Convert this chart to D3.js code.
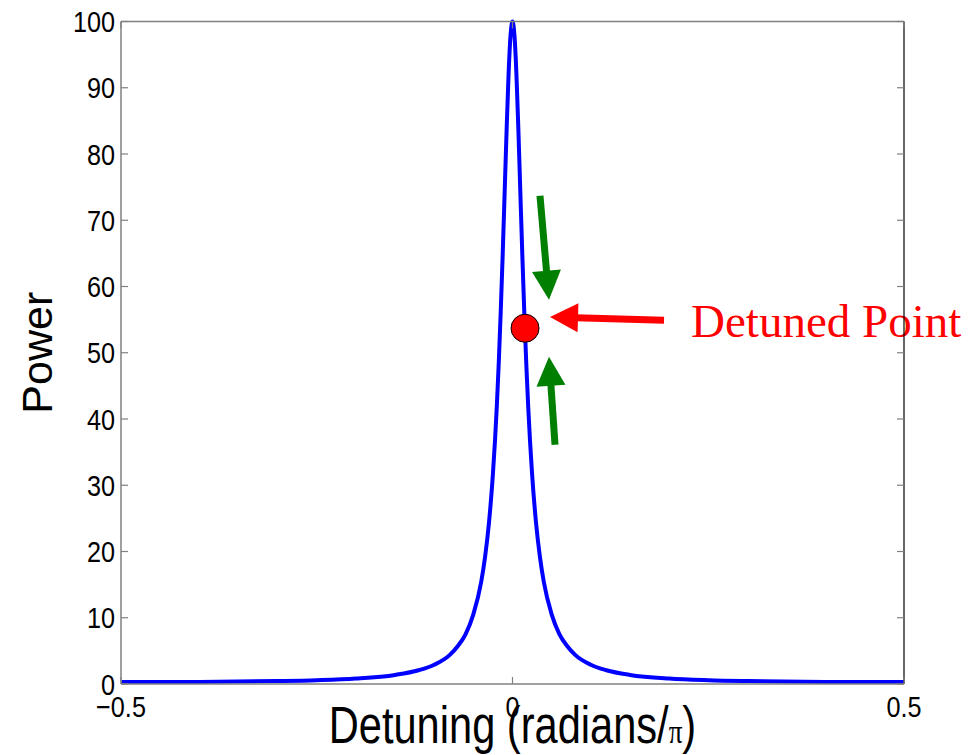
<!DOCTYPE html>
<html>
<head>
<meta charset="utf-8">
<script src="https://cdn.jsdelivr.net/npm/d3@7"></script>
<style>
  html, body { margin: 0; padding: 0; background: #fff; }
  svg { display: block; }
</style>
</head>
<body>
<svg id="chart" width="973" height="755"></svg>
<script>
// detuning (radians/pi) and power
const detuning = [-0.5, -0.4, -0.3, -0.25, -0.2, -0.15, -0.12, -0.1, -0.08, -0.07, -0.06, -0.05,
  -0.04, -0.035, -0.03, -0.025, -0.02, -0.0175, -0.015, -0.0125, -0.01, -0.0075, -0.005, -0.0025,
  0, 0.0025, 0.005, 0.0075, 0.01, 0.0125, 0.015, 0.0175, 0.02, 0.025, 0.03, 0.035, 0.04,
  0.05, 0.06, 0.07, 0.08, 0.1, 0.12, 0.15, 0.2, 0.25, 0.3, 0.4, 0.5];
const power = [0.29, 0.32, 0.44, 0.57, 0.82, 1.37, 2.07, 2.9, 4.4, 5.7, 7.5, 10.5,
  15.4, 19.2, 24.4, 31.7, 42.0, 48.6, 56.3, 64.9, 74.3, 83.7, 92.1, 97.9,
  100, 97.9, 92.1, 83.7, 74.3, 64.9, 56.3, 48.6, 42.0, 31.7, 24.4, 19.2, 15.4,
  10.5, 7.5, 5.7, 4.4, 2.9, 2.07, 1.37, 0.82, 0.57, 0.44, 0.32, 0.29];

const xTicks = [-0.5, 0, 0.5];
const yTicks = [0, 10, 20, 30, 40, 50, 60, 70, 80, 90, 100];

// annotation: detuned point and arrows (data units)
const detunedPoint = { x: 0.016, y: 53.7, label: "Detuned Point" };
const greenArrows = [
  { x0: 0.0351, y0: 73.7, x1: 0.0466, y1: 58.0 },
  { x0: 0.0543, y0: 36.1, x1: 0.0466, y1: 49.4 }
];
const redArrow = { x0: 0.1935, y0: 54.9, x1: 0.0479, y1: 55.4 };
const labelPos = { x: 0.228, y: 52.4 };

const svg = d3.select('#chart');
const mLeft = 121, mRight = 904, mTop = 21.5, mBottom = 684;

const x = d3.scaleLinear().domain([-0.5, 0.5]).range([mLeft, mRight]);
const y = d3.scaleLinear().domain([0, 100]).range([mBottom, mTop]);

const tickFont = "'Liberation Sans', Arial, Helvetica, sans-serif";

// curve
const pts = detuning.map((d, i) => [d, power[i]]);
svg.append('path')
  .datum(pts)
  .attr('fill', 'none')
  .attr('stroke', '#0000ff')
  .attr('stroke-width', 4)
  .attr('stroke-linejoin', 'round')
  .attr('d', d3.line().x(d => x(d[0])).y(d => y(d[1])).curve(d3.curveMonotoneX));

// arrows
function arrow(a, color, width, headLen, headW) {
  const px0 = x(a.x0), py0 = y(a.y0), px1 = x(a.x1), py1 = y(a.y1);
  const dx = px1 - px0, dy = py1 - py0, L = Math.hypot(dx, dy);
  const ux = dx / L, uy = dy / L, nx = -uy, ny = ux;
  const bx = px1 - ux * headLen, by = py1 - uy * headLen;
  svg.append('line')
    .attr('x1', px0).attr('y1', py0)
    .attr('x2', bx + ux * 2).attr('y2', by + uy * 2)
    .attr('stroke', color).attr('stroke-width', width);
  svg.append('polygon')
    .attr('points', [[px1, py1], [bx + nx * headW / 2, by + ny * headW / 2], [bx - nx * headW / 2, by - ny * headW / 2]].map(p => p.join(',')).join(' '))
    .attr('fill', color);
}
greenArrows.forEach(a => arrow(a, '#007f00', 7, 29, 29));
arrow(redArrow, '#ff0000', 7, 28, 29);

svg.append('circle')
  .attr('cx', x(detunedPoint.x)).attr('cy', y(detunedPoint.y))
  .attr('r', 14)
  .attr('fill', '#ff0000')
  .attr('stroke', '#000').attr('stroke-width', 1);

svg.append('text')
  .attr('x', x(labelPos.x)).attr('y', y(labelPos.y))
  .attr('font-family', "'Liberation Serif', 'Times New Roman', serif")
  .attr('font-size', 47)
  .attr('fill', '#ff0000')
  .text(detunedPoint.label);

// axes box
const axisColor = '#808080';
svg.append('line').attr('x1', mLeft).attr('x2', mRight).attr('y1', mTop).attr('y2', mTop).attr('stroke', axisColor).attr('stroke-width', 1.5);
svg.append('line').attr('x1', mLeft).attr('x2', mRight).attr('y1', mBottom).attr('y2', mBottom).attr('stroke', axisColor).attr('stroke-width', 1.5);
svg.append('line').attr('x1', mLeft).attr('x2', mLeft).attr('y1', mTop).attr('y2', mBottom).attr('stroke', axisColor).attr('stroke-width', 1.5);
svg.append('line').attr('x1', mRight).attr('x2', mRight).attr('y1', mTop).attr('y2', mBottom).attr('stroke', '#000').attr('stroke-width', 1.2);

// ticks
const tl = 7;
yTicks.forEach(t => {
  svg.append('line').attr('x1', mLeft).attr('x2', mLeft + tl).attr('y1', y(t)).attr('y2', y(t)).attr('stroke', axisColor).attr('stroke-width', 1.2);
  svg.append('line').attr('x1', mRight).attr('x2', mRight - tl).attr('y1', y(t)).attr('y2', y(t)).attr('stroke', axisColor).attr('stroke-width', 1.2);
});
xTicks.forEach(t => {
  svg.append('line').attr('x1', x(t)).attr('x2', x(t)).attr('y1', mBottom).attr('y2', mBottom - tl).attr('stroke', axisColor).attr('stroke-width', 1.2);
  svg.append('line').attr('x1', x(t)).attr('x2', x(t)).attr('y1', mTop).attr('y2', mTop + tl).attr('stroke', axisColor).attr('stroke-width', 1.2);
});

// tick labels (condensed look)
const sx = 0.87;
yTicks.forEach(t => {
  svg.append('text')
    .attr('transform', `translate(${mLeft - 6},${y(t) + 10.5}) scale(${sx},1)`)
    .attr('text-anchor', 'end')
    .attr('font-family', tickFont)
    .attr('font-size', 29)
    .attr('fill', '#000')
    .text(t);
});
xTicks.forEach(t => {
  svg.append('text')
    .attr('transform', `translate(${x(t)},717) scale(${sx},1)`)
    .attr('text-anchor', 'middle')
    .attr('font-family', tickFont)
    .attr('font-size', 29)
    .attr('fill', '#000')
    .text(t === 0 ? '0' : d3.format('.1f')(t).replace('-', '\u2212'));
});

// axis titles
const xl = svg.append('text')
  .attr('transform', `translate(${(mLeft + mRight) / 2},743) scale(0.8,1)`)
  .attr('text-anchor', 'middle')
  .attr('font-family', tickFont)
  .attr('font-size', 52)
  .attr('fill', '#000');
xl.append('tspan').text('Detuning (radians/');
xl.append('tspan').attr('font-family', "'Liberation Serif', serif").attr('font-size', 34).text('\u03c0');
xl.append('tspan').text(')');

svg.append('text')
  .attr('transform', `translate(52,${(mTop + mBottom) / 2}) rotate(-90)`)
  .attr('text-anchor', 'middle')
  .attr('font-family', tickFont)
  .attr('font-size', 43)
  .attr('fill', '#000')
  .text('Power');
</script>
</body>
</html>
